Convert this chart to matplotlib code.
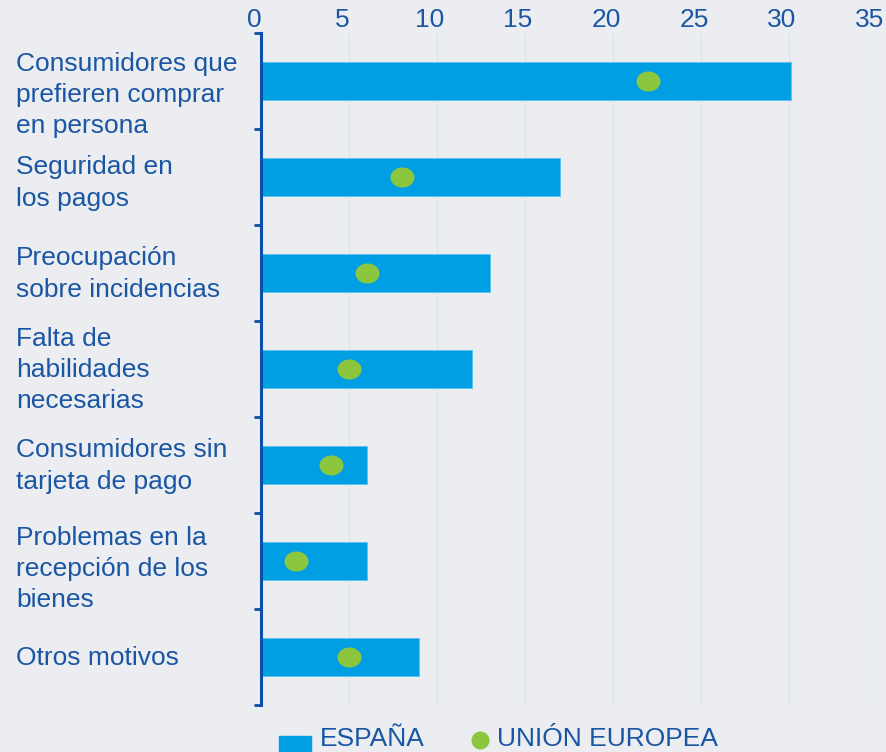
import matplotlib.pyplot as plt
import matplotlib.transforms as mtransforms
from matplotlib.patches import Rectangle
from matplotlib.lines import Line2D
import numpy as np

plt.rcParams['font.family'] = ['Liberation Sans', 'DejaVu Sans']

categorias = ["Consumidores que\nprefieren comprar\nen persona",
              "Seguridad en\nlos pagos",
              "Preocupación\nsobre incidencias",
              "Falta de\nhabilidades\nnecesarias",
              "Consumidores sin\ntarjeta de pago",
              "Problemas en la\nrecepción de los\nbienes",
              "Otros motivos"]
espana = [30.1, 17.0, 13.0, 12.0, 6.0, 6.0, 9.0]
ue = [22.0, 8.0, 6.0, 5.0, 4.0, 2.0, 5.0]
xticks = [0, 5, 10, 15, 20, 25, 30, 35]

bg = '#ebedf0'
azul = '#009fe3'
verde = '#8cc63f'
texto = '#1a56a4'
eje = '#0d4fa8'

fig = plt.figure(figsize=(8.87, 7.52), dpi=100, facecolor=bg)
ax = fig.add_axes([261 / 887, 47 / 752, 616 / 887, 672 / 752])
ax.set_facecolor(bg)

y = np.arange(len(categorias))
ax.barh(y, espana, height=0.4, color=azul, edgecolor='#5cc3ee', linewidth=0.6, zorder=2)

# ellipse-shaped marker, a bit wider than tall
t = np.linspace(0, 2 * np.pi, 60)
elipse = np.column_stack([1.2 * np.cos(t), np.sin(t)])
ax.scatter(ue, y, marker=elipse, s=300, color=verde, zorder=3, linewidths=0)

ax.set_xlim(0, 35)
ax.set_ylim(len(categorias) - 0.5, -0.5)
ax.xaxis.tick_top()
ax.set_xticks(xticks)
ax.set_xticklabels([str(v) for v in xticks])
ax.tick_params(axis='x', length=0, pad=1, labelsize=19, labelcolor=texto)
offset = mtransforms.ScaledTranslation(-7 / 100, 0, fig.dpi_scale_trans)
for lab in ax.get_xticklabels():
    lab.set_transform(lab.get_transform() + offset)
ax.grid(axis='x', color='#d4e8f4', linewidth=1, zorder=0)
ax.set_axisbelow(True)

ax.set_yticks(np.arange(-0.5, len(categorias), 1.0))
ax.set_yticklabels([])
ax.tick_params(axis='y', length=5, width=2, color=eje, direction='out')

for s in ['top', 'right', 'bottom']:
    ax.spines[s].set_visible(False)
ax.spines['left'].set_color(eje)
ax.spines['left'].set_linewidth(2.2)

# category labels, left aligned near the figure edge (small downward shifts in px)
desplaz = [14, 6, 1, 1, 1, 8, 1]
trans = mtransforms.blended_transform_factory(fig.transFigure, ax.transData)
for i, c in enumerate(categorias):
    tr = trans + mtransforms.ScaledTranslation(0, -desplaz[i] / 100, fig.dpi_scale_trans)
    ax.text(16 / 887, i, c, transform=tr, ha='left', va='center',
            fontsize=19, color=texto, linespacing=1.38)

# legend at the bottom
fig.patches.append(Rectangle((279 / 887, -0.01), 32 / 887, 24 / 752,
                             transform=fig.transFigure, color=azul))
fig.text(320 / 887, 1 / 752, "ESPAÑA", fontsize=19, color=texto,
         ha='left', va='bottom')
fig.lines.append(Line2D([480 / 887], [12 / 752], transform=fig.transFigure,
                        marker='o', markersize=12, color=verde, linestyle='none'))
fig.text(497 / 887, 1 / 752, "UNIÓN EUROPEA", fontsize=19, color=texto,
         ha='left', va='bottom')

fig.savefig('out.png', dpi=100, facecolor=bg)
